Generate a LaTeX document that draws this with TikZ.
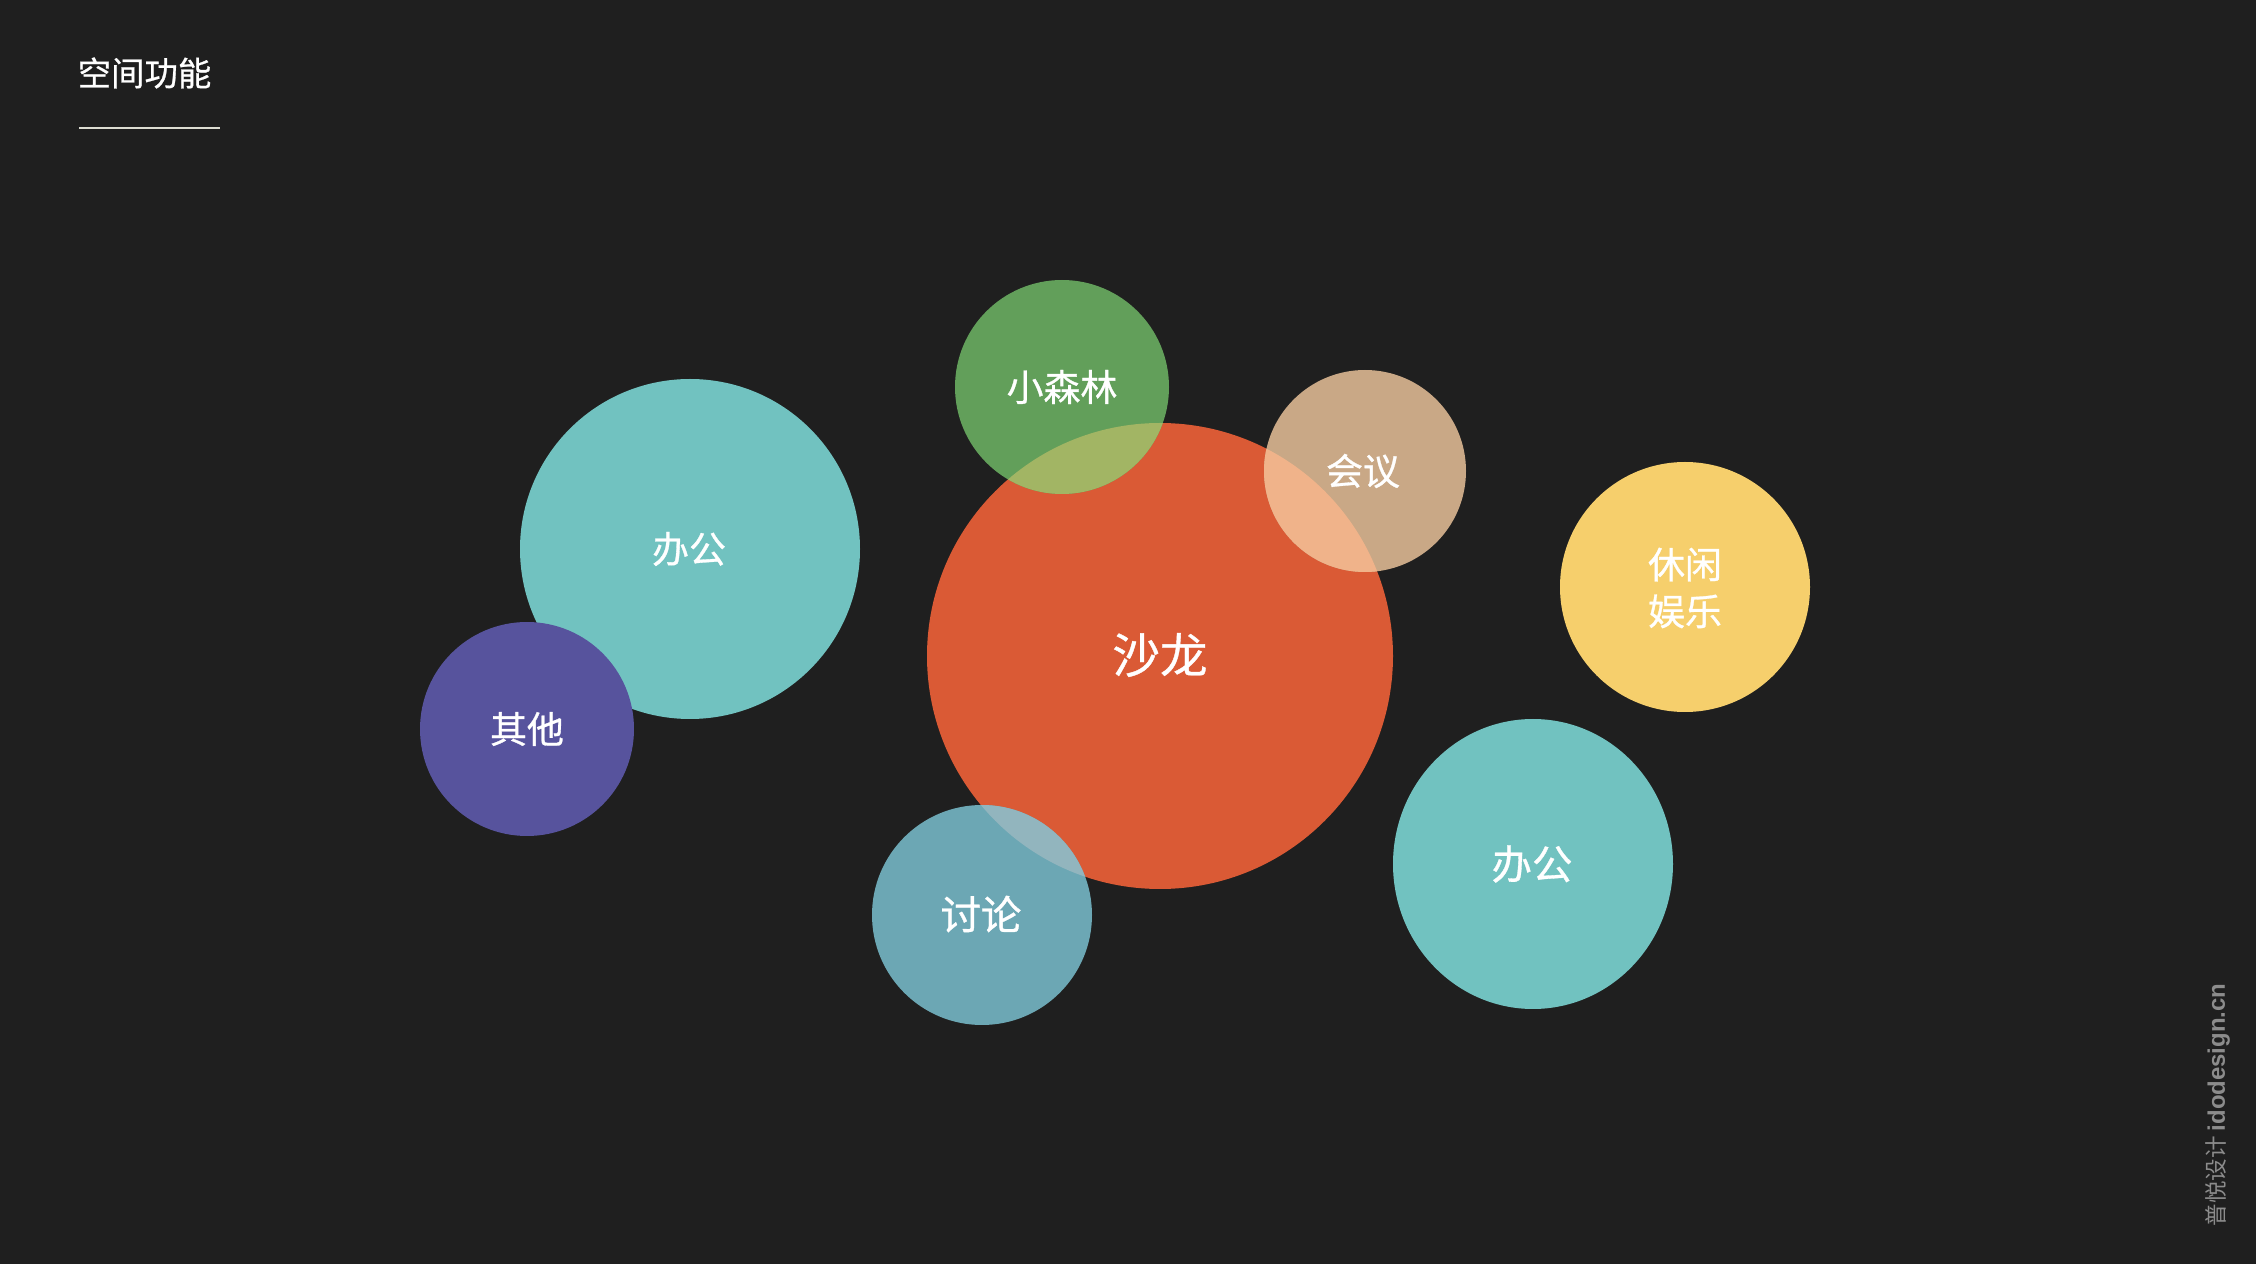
\documentclass[tikz,border=0pt]{standalone}
\usepackage{fontspec}
\newfontfamily\cjk[FakeBold=0.8]{Noto Sans CJK SC}
\newfontfamily\cjklight{Noto Sans CJK SC}
\newfontfamily\wmlatin{Liberation Sans}
\usepackage{xcolor}
\definecolor{bg}{HTML}{1F1F1F}
\definecolor{office}{HTML}{71C2C0}
\definecolor{other}{HTML}{57539D}
\definecolor{salon}{HTML}{DA5A35}
\definecolor{forest}{HTML}{629F5A}
\definecolor{meeting}{HTML}{C9A886}
\definecolor{talk}{HTML}{6CA7B4}
\definecolor{leisure}{HTML}{F6CF6C}
\definecolor{forestmix}{HTML}{A2B564}
\definecolor{meetingmix}{HTML}{F0B38A}
\definecolor{talkmix}{HTML}{92B5BE}
\definecolor{rulecol}{HTML}{DCDCD2}
\definecolor{wmgrey}{HTML}{8C8C8C}

\tikzset{
  bubbletext/.style={
    inner sep=0pt,
    text=white,
    align=center,
    font=\cjk\fontsize{10.5}{13.3}\selectfont},
  headline/.style={
    inner sep=0pt,
    text=white,
    font=\cjk\fontsize{9.5}{11}\selectfont},
}

\begin{document}
\begin{tikzpicture}[x=0.01cm, y=-0.01cm]
\fill[bg] (0,0) rectangle (2256,1264);
\useasboundingbox (0,0) rectangle (2256,1264);

% heading
\node[headline, anchor=west] (heading) at (77,73) {空间功能};
\coordinate (rulestart) at (79,128);
\coordinate (ruleend) at (220,128);
\draw[rulecol, line width=0.6pt] (rulestart) -- (ruleend);

% bubbles
\fill[office] (690,549) circle[radius=170];
\fill[other] (527,729) circle[radius=107];
\fill[salon] (1160,656) circle[radius=233];
\fill[forest] (1062,387) circle[radius=107];
\fill[meeting] (1365,471) circle[radius=101];
\fill[talk] (982,915) circle[radius=110];
\fill[leisure] (1685,587) circle[radius=125];
\fill[office] (1533,864) circle[x radius=140, y radius=145];

% overlaps with the big one
\begin{scope}
  \clip (1160,656) circle[radius=233];
  \fill[forestmix] (1062,387) circle[radius=107];
  \fill[meetingmix] (1365,471) circle[radius=101];
  \fill[talkmix] (982,915) circle[radius=110];
\end{scope}

% labels
\node[bubbletext] (officeleft) at (689,549) {办公};
\node[bubbletext] (otherlbl) at (527,729) {其他};
\node[bubbletext, font=\cjk\fontsize{13.5}{16}\selectfont] (salonlbl) at (1160,655) {沙龙};
\node[bubbletext] (forestlbl) at (1062,387) {小森林};
\node[bubbletext] (meetinglbl) at (1363,471) {会议};
\node[bubbletext, font=\cjk\fontsize{11.5}{14}\selectfont] (talklbl) at (981,914) {讨论};
\node[bubbletext] (leisurelbl) at (1685,588) {休闲\\娱乐};
\node[bubbletext, font=\cjk\fontsize{11.5}{14}\selectfont] (officeright) at (1532,864) {办公};

% watermark
\node[rotate=90, inner sep=0pt, text=wmgrey] (mark) at (2218,1105)
  {\cjklight\fontsize{6.4}{8}\selectfont 普悦设计 \wmlatin\bfseries\fontsize{6.8}{8}\selectfont idodesign.cn};
\end{tikzpicture}
\end{document}
